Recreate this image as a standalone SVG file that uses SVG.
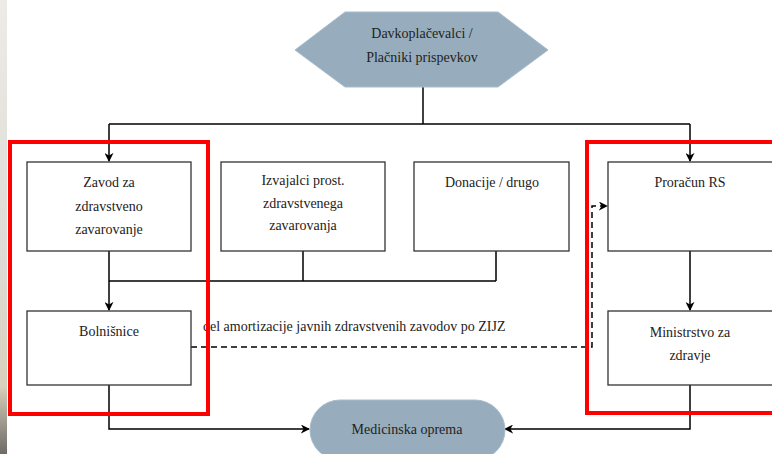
<svg xmlns="http://www.w3.org/2000/svg" width="772" height="454" viewBox="0 0 772 454">
<defs>
<linearGradient id="strip" x1="0" y1="0" x2="0" y2="1">
<stop offset="0" stop-color="#ecebe6"/>
<stop offset="0.6" stop-color="#dcdad2"/>
<stop offset="0.85" stop-color="#d8d0bc"/>
<stop offset="1" stop-color="#6e6a66"/>
</linearGradient>
<marker id="arr" viewBox="0 0 10 10" refX="9" refY="5" markerWidth="9" markerHeight="9" markerUnits="userSpaceOnUse" orient="auto">
<path d="M0,0 L10,5 L0,10 L3,5 Z" fill="#000"/>
</marker>
</defs>
<style>
.box{fill:#fff;stroke:#333;stroke-width:1.3}
.shape{fill:#97adbd;stroke:#a9bccb;stroke-width:1}
.t{font-family:Liberation Serif, DejaVu Serif, serif;font-size:14px;fill:#222;text-anchor:middle}
.c{fill:none;stroke:#000;stroke-width:1.5}
.d{fill:none;stroke:#000;stroke-width:1.5;stroke-dasharray:6,4}
.red{fill:none;stroke:#ff0000;stroke-width:4}
</style>
<rect x="0" y="0" width="772" height="454" fill="#fff"/>
<rect x="0" y="0" width="7" height="454" fill="url(#strip)"/>

<g id="connectors">
<path class="c" d="M423,87 V124"/>
<path class="c" d="M109,124 H690"/>
<path class="c" d="M109,124 V161" marker-end="url(#arr)"/>
<path class="c" d="M690,124 V161" marker-end="url(#arr)"/>
<path class="c" d="M109,251 V310" marker-end="url(#arr)"/>
<path class="c" d="M303,251 V281 M496,251 V281 M109,281 H496"/>
<path class="c" d="M690,251 V310" marker-end="url(#arr)"/>
<path class="c" d="M109,385 V429 H309" marker-end="url(#arr)"/>
<path class="c" d="M690,385 V429 H505" marker-end="url(#arr)"/>
<path class="d" d="M191,347 H592 V206 H607" marker-end="url(#arr)"/>
<text class="t" x="203" y="331" style="text-anchor:start">del amortizacije javnih zdravstvenih zavodov po ZIJZ</text>
</g>

<g id="davkoplacevalci">
<polygon class="shape" points="295,50 345,12 498,12 548,50 498,87 345,87"/>
<text class="t" x="422" y="38">Davkoplačevalci /</text>
<text class="t" x="422" y="62">Plačniki prispevkov</text>
</g>

<g id="zavod">
<rect class="box" x="27" y="162" width="164" height="89"/>
<text class="t" x="109" y="187">Zavod za</text>
<text class="t" x="109" y="211">zdravstveno</text>
<text class="t" x="109" y="234">zavarovanje</text>
</g>

<g id="izvajalci">
<rect class="box" x="221" y="162" width="164" height="89"/>
<text class="t" x="303" y="185">Izvajalci prost.</text>
<text class="t" x="303" y="208">zdravstvenega</text>
<text class="t" x="303" y="230">zavarovanja</text>
</g>

<g id="donacije">
<rect class="box" x="414" y="162" width="155" height="89"/>
<text class="t" x="492" y="187">Donacije / drugo</text>
</g>

<g id="proracun">
<rect class="box" x="608" y="162" width="170" height="89"/>
<text class="t" x="690" y="187">Proračun RS</text>
</g>

<g id="bolnisnice">
<rect class="box" x="27" y="311" width="164" height="74"/>
<text class="t" x="109" y="336">Bolnišnice</text>
</g>

<g id="ministrstvo">
<rect class="box" x="608" y="311" width="170" height="74"/>
<text class="t" x="690" y="337">Ministrstvo za</text>
<text class="t" x="690" y="360">zdravje</text>
</g>

<g id="medicinska">
<rect class="shape" x="310" y="400" width="195" height="60" rx="30" ry="30"/>
<text class="t" x="407" y="434">Medicinska oprema</text>
</g>

<g id="highlights">
<rect class="red" x="10" y="142" width="198" height="272"/>
<rect class="red" x="587" y="142" width="190" height="271"/>
</g>
</svg>
